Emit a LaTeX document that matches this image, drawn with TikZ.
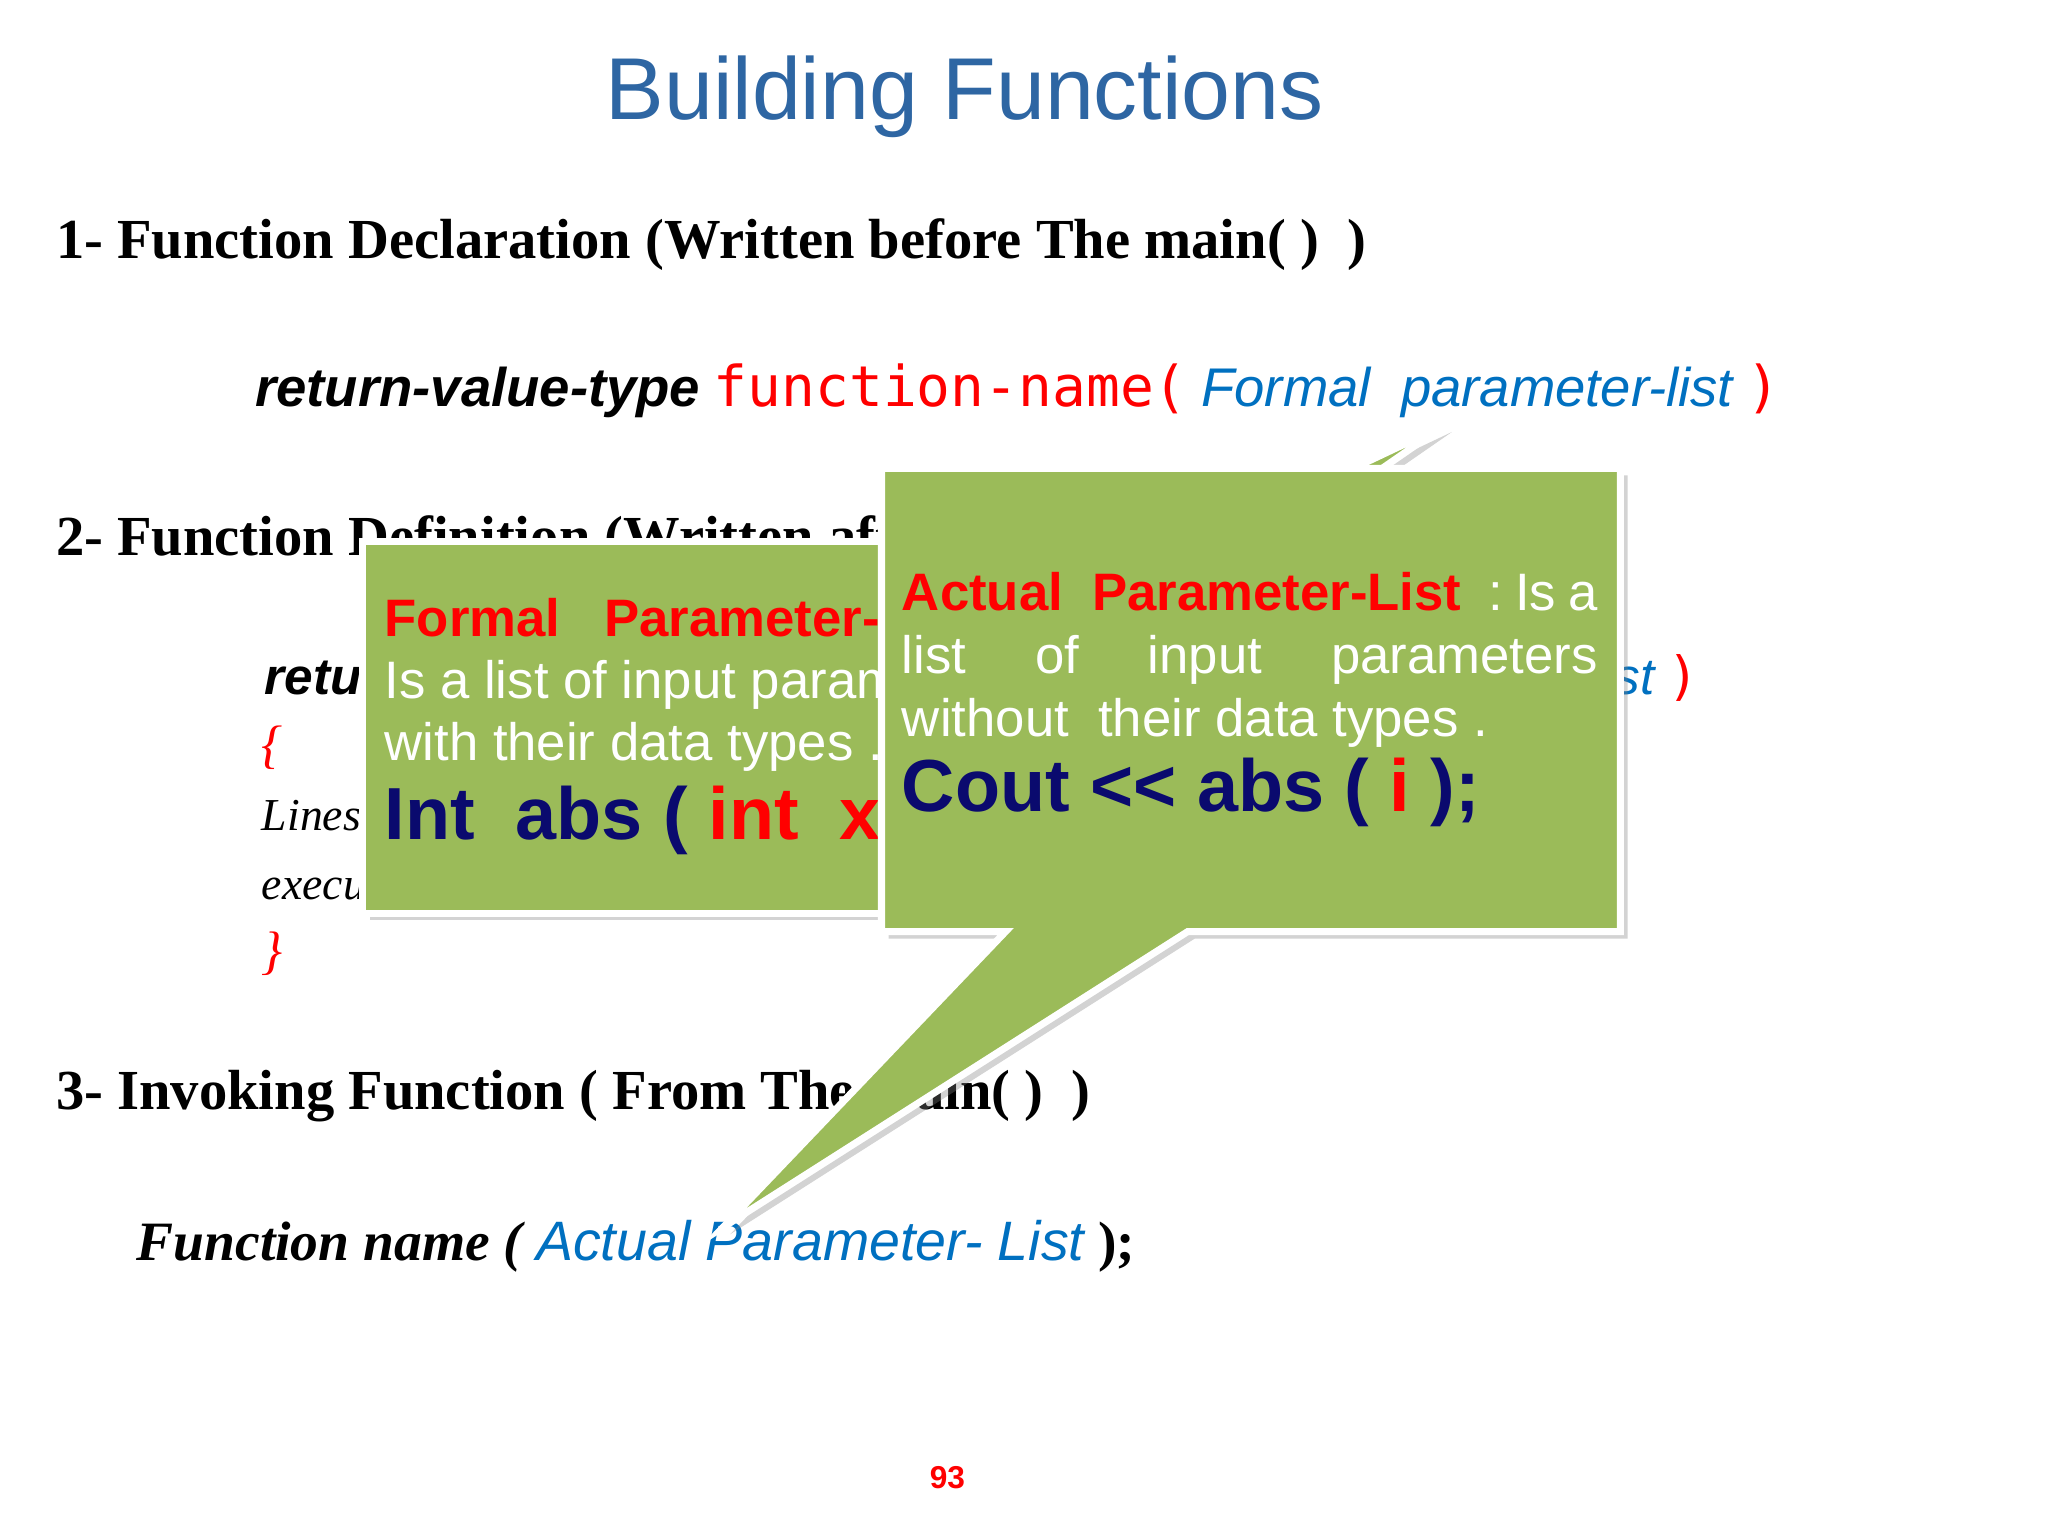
\documentclass[tikz,border=0pt]{standalone}
\usepackage{fontspec}
\setmainfont{Liberation Serif}
\setsansfont{Liberation Sans}
\newfontfamily\codefont{DejaVu Sans Mono}
\usetikzlibrary{shadows}
\definecolor{titleblue}{HTML}{2E66A3}
\definecolor{parblue}{HTML}{0070C0}
\definecolor{callgreen}{HTML}{9BBB59}
\definecolor{codenavy}{HTML}{0A0A6E}
\tikzset{
  txt/.style={anchor=base west, inner sep=0pt},
  callout/.style={fill=callgreen, draw=white, line width=2pt, drop shadow={opacity=0.35, shadow xshift=2pt, shadow yshift=-2pt}},
  head/.style={txt, font=\fontsize{16.1}{19}\selectfont\bfseries},
  boxtxt/.style={txt, font=\fontsize{15}{18}\sffamily, text=white},
  bigcode/.style={txt, font=\fontsize{21}{25}\sffamily\bfseries, text=codenavy}
}
\newcommand{\sigline}[1]{{\sffamily\bfseries\itshape return-value-type} {\codefont\fontsize{#1}{19}\selectfont\color{red}function-name(} {\sffamily\itshape\color{parblue}Formal~~parameter-list} {\codefont\fontsize{#1}{19}\selectfont\color{red})}}
\begin{document}
\begin{tikzpicture}[x=0.013196cm, y=-0.013196cm]
\useasboundingbox (0,0) rectangle (1552,1164);

% title
\node (title) [font=\fontsize{25}{30}\sffamily, text=titleblue] at (731,73) {Building Functions};

% section 1
\node (h1) [head] at (42,196) {1- Function Declaration (Written before The main( )~~)};
\node (decl) [txt, font=\fontsize{15.5}{18}\selectfont] at (193,308) {\sigline{16}};

% section 2
\node (h2) [head] at (42,421) {2- Function Definition (Written after The main( )~~)};
\node (defn) [txt, font=\fontsize{14.6}{18}\selectfont] at (200,526) {\sigline{15}};
\node (lb) [txt, font=\fontsize{15}{18}\selectfont\itshape, text=red] at (198,578) {\{};
\node (body1) [txt, font=\fontsize{13}{16}\selectfont\itshape] at (198,629) {Lines of code to be};
\node (body2) [txt, font=\fontsize{13}{16}\selectfont\itshape] at (198,682) {executed};
\node (rb) [txt, font=\fontsize{15}{18}\selectfont\itshape, text=red] at (198,734) {\}};

% section 3
\node (h3) [head] at (42,841) {3- Invoking Function ( From The main( )~~)};
\node (call) [txt, font=\fontsize{15.8}{18}\selectfont\bfseries\itshape] at (103,955) {Function name ( {\mdseries\sffamily\color{parblue}Actual Parameter- List} \upshape);};

% page number
\node (page) [font=\fontsize{9}{11}\sffamily\bfseries, text=red] at (718,1120) {93};

% formal callout
\path[callout] (275,410) rectangle (680,692);
\path[callout] (905,412) -- (1095,322) -- (965,412) -- cycle;
\node (f1) [boxtxt, text=red, font=\fontsize{15}{18}\sffamily\bfseries] at (291,482) {Formal~~ Parameter-List :};
\node (f2) [boxtxt] at (291,529) {Is a list of input parameters};
\node (f3) [boxtxt] at (291,576) {with their data types .};
\node (f4) [bigcode] at (291,636) {Int~ abs ( {\color{red}int~ x} )};

% actual callout
\path[callout] (668,355) -- (1228,355) -- (1228,706) -- (900,706) -- (548,930) -- (762,706) -- (668,706) -- cycle;
\node (a1) [boxtxt] at (683,463) {\hbox to 198pt{{\color{red}\bfseries Actual~ Parameter-List} \hfill:\hfill Is\hfill a}};
\node (a2) [boxtxt] at (683,510) {\hbox to 198pt{list\hfill of\hfill input\hfill parameters}};
\node (a3) [boxtxt] at (683,558) {without~ their data types .};
\node (a4) [bigcode] at (683,615) {Cout {<}{<} abs ( {\color{red}i} );};
\end{tikzpicture}
\end{document}
